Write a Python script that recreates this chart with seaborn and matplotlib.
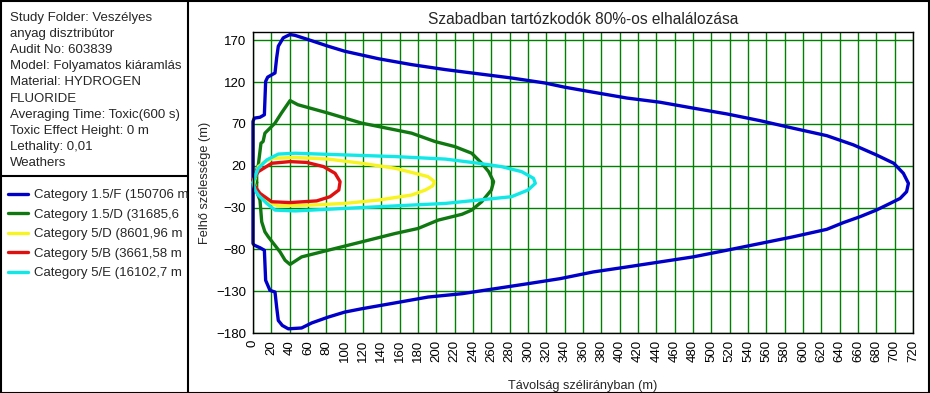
import pandas as pd
import matplotlib.pyplot as plt
import seaborn as sns
from matplotlib.lines import Line2D
from matplotlib.patches import Rectangle

# Kontúrok (távolság m, szélesség m), körbe rajzolva
cat_names = ["Category 1.5/F (150706 m", "Category 1.5/D (31685,6", "Category 5/D (8601,96 m",
             "Category 5/B (3661,58 m", "Category 5/E (16102,7 m"]
cat_colors = ["#0000c8", "#107810", "#f8f420", "#e01010", "#10e8e8"]

x_15F = [0, 0, 1.4, 7.6, 12.4, 13.8, 16, 24, 25.8, 27.6, 33, 40.4, 45.8, 60, 82, 100, 137, 173, 210,
         246, 282, 318.5, 340, 371, 408, 444, 480, 517, 553, 589, 626, 655, 680, 699, 709.5, 715,
         713, 706, 695, 680, 662, 644, 626, 589, 553, 517, 480, 444, 408, 371, 335, 300, 264, 228,
         191, 155, 118.6, 100, 82, 64, 53, 38.5, 32, 27.6, 25.8, 24, 18.5, 13.8, 12.4, 7.6, 1.4, 0, 0]
y_15F = [0, 73, 77, 78, 81, 121, 126, 131, 149, 163, 173, 177, 176, 171, 163, 157, 148, 141, 135,
         130, 125, 119, 114, 108, 101, 96, 89, 82, 74, 65, 56, 45, 33, 23, 11, -1,
         -11, -19, -25, -33, -41, -48, -56, -65, -73, -81, -89, -95, -101, -107, -115, -121, -127, -133,
         -137, -144, -151, -155, -161, -168, -174, -175, -171, -165, -149, -131, -129, -117, -81, -78, -75, -73, 0]

x_15D = [4, 4, 5.8, 8.7, 11, 13, 24, 31, 40.4, 49, 82, 118.6, 155, 173, 198.5, 220, 238.6, 249.5,
         257, 262.5, 260, 249.5, 238.6, 228, 202, 180, 155, 118.6, 82, 53, 40.4, 35, 29.5, 16.7,
         13, 9.5, 7.6, 4, 4]
y_15D = [0, 15, 21, 47, 49, 59, 71, 83, 98, 93, 83, 71, 63, 59, 49, 43, 35, 23,
         13, 1, -9, -23, -33, -38, -45, -55, -61, -71, -81, -89, -98, -93, -83, -65,
         -59, -47, -21, -11, 0]

x_5D = [1, 5.8, 13, 22, 46, 82, 118.6, 155, 177, 191, 198, 196, 188, 173, 137, 100, 64, 27.6, 20.4, 9.5, 4, 1]
y_5D = [0, 19, 25, 29, 30, 28, 23, 17, 11, 7, 1, -4, -9, -15, -21, -25, -27, -28, -25, -17, -10, 0]

x_5B = [0, 5.8, 20.4, 40.4, 58.6, 77, 89.5, 95, 93.6, 84, 69.5, 40.4, 20.4, 7.6, 1, 0]
y_5B = [3, 13, 23, 25, 24, 19, 11, 1, -9, -17, -22, -24, -23, -13, -3, 3]

x_5E = [0, 2.2, 5.8, 15, 27.6, 46, 100, 155, 210, 246, 271, 293, 306, 308, 300, 282, 246, 210,
        155, 100, 46, 24, 15, 5.8, 2.2, 0]
y_5E = [0, 7, 17, 27, 34, 35, 33, 31, 28, 23, 19, 13, 5, -1, -9, -17, -21, -25,
        -28, -31, -34, -33, -25, -15, -9, 0]

info_lines = ["Study Folder: Veszélyes", "anyag disztribútor", "Audit No: 603839",
              "Model: Folyamatos kiáramlás", "Material: HYDROGEN", "FLUORIDE",
              "Averaging Time: Toxic(600 s)", "Toxic Effect Height: 0 m", "Lethality: 0,01", "Weathers"]

y_ticks = [-180, -130, -80, -30, 20, 70, 120, 170]
x_ticks = list(range(0, 721, 20))

frames = []
for name, xs, ys in zip(cat_names, [x_15F, x_15D, x_5D, x_5B, x_5E], [y_15F, y_15D, y_5D, y_5B, y_5E]):
    frames.append(pd.DataFrame({"tav": xs, "szel": ys, "kat": name}))
df = pd.concat(frames, ignore_index=True)

sns.set_style("white")
plt.rcParams["font.family"] = ["Liberation Sans", "DejaVu Sans"]
plt.rcParams["font.size"] = 9

W, H = 930, 393
fig = plt.figure(figsize=(9.3, 3.93), dpi=100)
ax = fig.add_axes([253 / W, 1 - 333 / H, 660 / W, 301 / H])

sns.lineplot(data=df, x="tav", y="szel", hue="kat", units="kat", estimator=None, sort=False,
             palette=cat_colors, linewidth=2.4, ax=ax, legend=True)
for ln in ax.lines:
    ln.set_clip_on(False)

ax.set_xlim(0, 720)
ax.set_ylim(-180, 180)
ax.set_xticks(x_ticks)
ax.set_yticks(y_ticks)
ax.tick_params(axis="x", labelrotation=90, colors="#008000", labelcolor="black", length=4, width=1, labelsize=9.5, pad=1)
ax.tick_params(axis="y", colors="#008000", labelcolor="black", length=4, width=1, labelsize=9.5, pad=1)
ax.grid(True, color="#008000", linewidth=1)
for s in ax.spines.values():
    s.set_color("black")
    s.set_linewidth(1)
ax.set_title("Szabadban tartózkodók 80%-os elhalálozása", fontsize=11.2, pad=6)
ax.set_xlabel("Távolság szélirányban (m)", fontsize=9.2, labelpad=13)
ax.set_ylabel("Felhő szélessége (m)", fontsize=9.2, labelpad=4)

# bal oldali panel
panel = fig.add_axes([0, 0, 188 / W, 1])
panel.axis("off")
for i, line in enumerate(info_lines):
    fig.text(10 / W, 1 - (18 + i * 16.1) / H, line, fontsize=9.5, va="center", ha="left")

handles, labels = ax.get_legend_handles_labels()
ax.legend_.remove()
leg = fig.legend(handles, labels, loc="upper left", bbox_to_anchor=(8 / W, 1 - 189 / H),
                 frameon=False, fontsize=9.5, handlelength=1.55, handletextpad=0.4,
                 labelspacing=0.55, borderpad=0, borderaxespad=0)
for t in leg.get_texts():
    t.set_clip_box(panel.bbox)
    t.set_clip_on(True)

fig.add_artist(Line2D([188 / W, 188 / W], [0, 1], color="black", linewidth=1.5))
fig.add_artist(Line2D([0, 188 / W], [1 - 176 / H, 1 - 176 / H], color="black", linewidth=1.5))
fig.add_artist(Rectangle((0.5 / W, 0.5 / H), 1 - 1.5 / W, 1 - 1.5 / H, fill=False,
                         edgecolor="black", linewidth=1.5))

fig.savefig("out.png", dpi=100)
